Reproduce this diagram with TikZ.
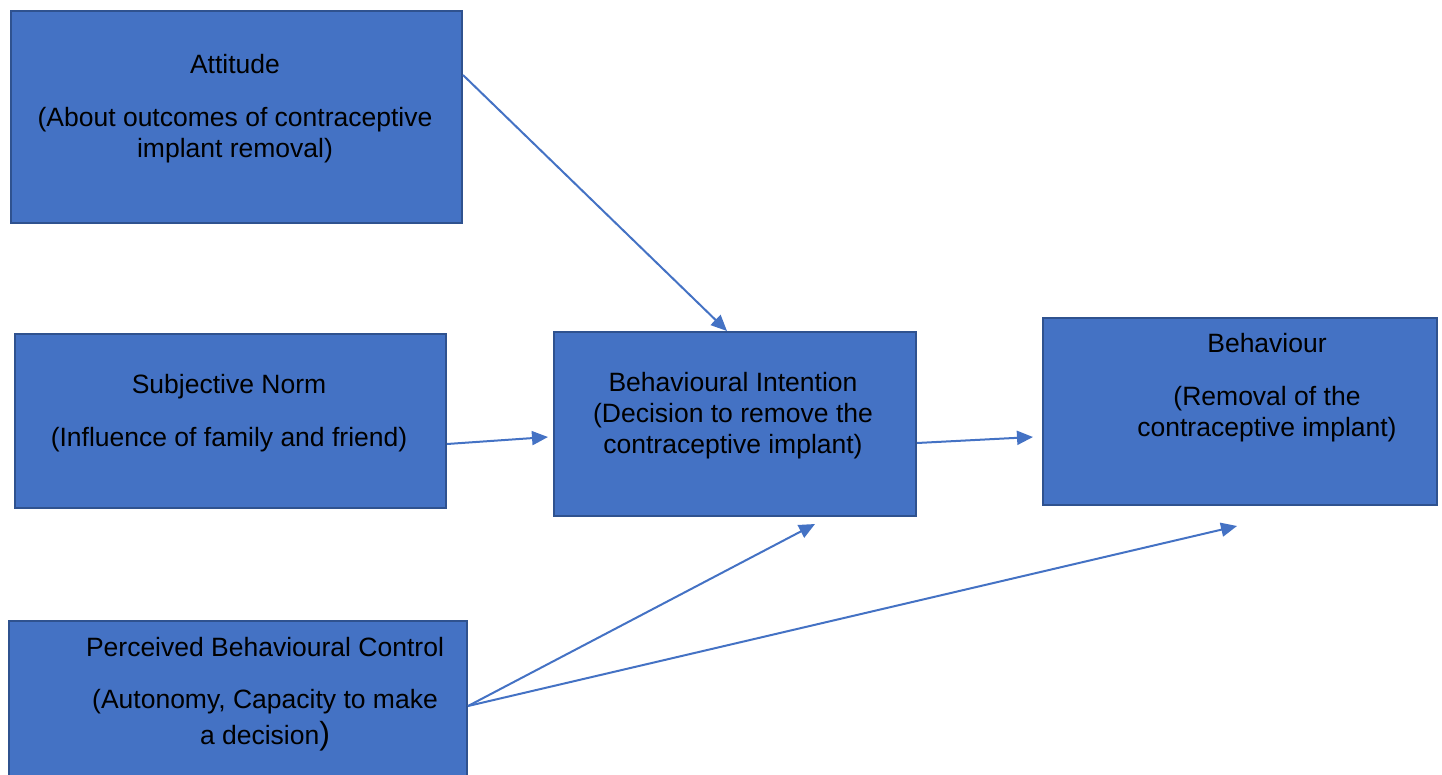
\documentclass[tikz,border=0pt]{standalone}
\usepackage{fontspec}
\setmainfont{Liberation Sans}
\usetikzlibrary{arrows.meta,positioning}
\definecolor{boxfill}{HTML}{4472C4}
\definecolor{boxline}{HTML}{2F528F}
\definecolor{arrowc}{HTML}{4472C4}
\tikzset{
  box/.style={draw=boxline, fill=boxfill, line width=2pt, rectangle, inner sep=0pt, anchor=north west},
  lbl/.style={align=center, font=\fontsize{26.5}{31}\selectfont, text=black, inner sep=0pt},
  conn/.style={draw=arrowc, line width=2pt, -{Triangle[length=16pt,width=14pt]}}
}
\begin{document}
\begin{tikzpicture}[x=1pt,y=-1pt]
\useasboundingbox (0,0) rectangle (1442,774);
% boxes
\node[box, minimum width=451pt, minimum height=212pt] (att) at (10,10) {};
\node[box, minimum width=431pt, minimum height=174pt] (sn) at (14,333) {};
\node[box, minimum width=362pt, minimum height=184pt] (bi) at (553,331) {};
\node[box, minimum width=394pt, minimum height=187pt] (beh) at (1042,317) {};
\node[box, minimum width=458pt, minimum height=180pt] (pbc) at (8,620) {};
% texts
\node[lbl] (attT) at (235,109) {Attitude\\[22pt](About outcomes of contraceptive\\implant removal)};
\node[lbl] (snT) at (229,413) {Subjective Norm\\[22pt](Influence of family and friend)};
\node[lbl] (biT) at (733,416) {Behavioural Intention\\(Decision to remove the\\contraceptive implant)};
\node[lbl] (behT) at (1267,388) {Behaviour\\[22pt](Removal of the\\contraceptive implant)};
\node[lbl] (pbcT) at (265,694) {Perceived Behavioural Control\\[21pt](Autonomy, Capacity to make\\[5pt]a decision{\fontsize{32}{36}\selectfont)}};
% free ends
\coordinate (p1) at (815,524);
\coordinate (p2) at (1237,526);
% connectors
\draw[conn] ([yshift=-65pt]att.north east) -- ([xshift=174pt]bi.north west);
\draw[conn] ([yshift=-23pt]sn.east) -- ([xshift=-5pt,yshift=-13pt]bi.west);
\draw[conn] ([yshift=-19pt]bi.east) -- ([xshift=-9pt,yshift=-25.5pt]beh.west);
\draw[conn] ([yshift=-86pt]pbc.north east) -- (p1);
\draw[conn] ([yshift=-86pt]pbc.north east) -- (p2);
\end{tikzpicture}
\end{document}
